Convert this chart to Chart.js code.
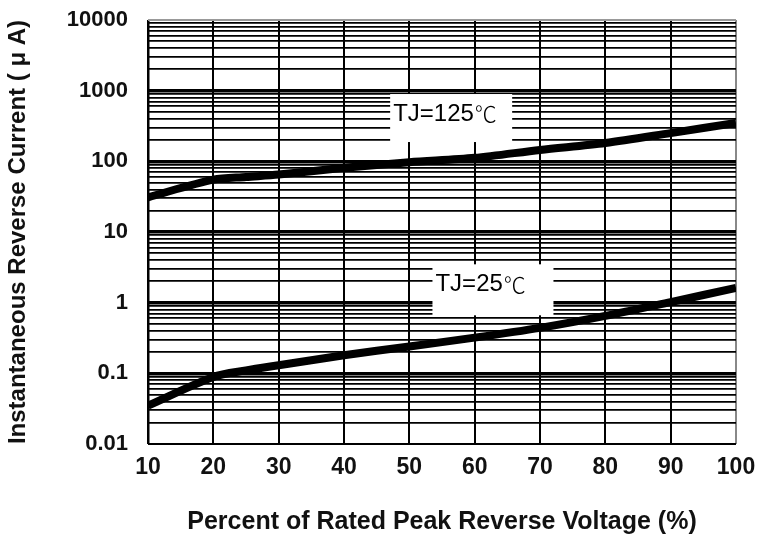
<!DOCTYPE html>
<html>
<head>
<meta charset="utf-8">
<script src="https://cdn.jsdelivr.net/npm/chart.js@4.4.1/dist/chart.umd.min.js"></script>
<style>
  html, body { margin: 0; padding: 0; background: #fff; }
  #wrap { width: 771px; height: 548px; }
</style>
</head>
<body>
<div id="wrap"><canvas id="grafico"></canvas></div>
<script>
// percent of rated peak reverse voltage
const voltagem = [10, 20, 25, 30, 40, 50, 60, 70, 80, 90, 100];
// reverse current (uA)
const corrente125 = [31, 55, 60, 65, 81, 97, 112, 145, 182, 251, 350];
const corrente25 = [0.035, 0.089, 0.11, 0.13, 0.18, 0.24, 0.32, 0.44, 0.65, 1.02, 1.62];
const ticksX = [10, 20, 30, 40, 50, 60, 70, 80, 90, 100];
const decadasY = [0.01, 0.1, 1, 10, 100, 1000, 10000];
const rotulos = [
    { texto: "TJ=125", x: 56.4, y: 410, w: 122, h: 48 },
    { texto: "TJ=25", x: 62.8, y: 1.52, w: 121, h: 51 }
];

const fonte = "'Liberation Sans', Arial, sans-serif";

function ehDecada(v) {
    return decadasY.some(d => Math.abs(v / d - 1) < 1e-6);
}

const pontos = arr => voltagem.map((x, i) => ({ x, y: arr[i] }));

const rotulosPlugin = {
    id: "rotulos",
    afterDatasetsDraw(chart) {
        const ctx = chart.ctx;
        const sx = chart.scales.x;
        const sy = chart.scales.y;
        rotulos.forEach(r => {
            const cx = sx.getPixelForValue(r.x);
            const cy = sy.getPixelForValue(r.y);
            const esq = cx - r.w / 2;
            const topo = cy - r.h / 2;
            ctx.save();
            ctx.fillStyle = "#fff";
            ctx.fillRect(esq, topo, r.w, r.h);
            ctx.fillStyle = "#000";
            ctx.textAlign = "left";
            ctx.textBaseline = "middle";
            ctx.font = "24px " + fonte;
            ctx.fillText(r.texto, esq + 3, topo + 20);
            const larg = ctx.measureText(r.texto).width;
            ctx.font = "300 22px 'Noto Sans CJK SC', sans-serif";
            ctx.fillText("℃", esq + 4 + larg, topo + 20);
            ctx.restore();
        });
    }
};

new Chart(document.getElementById("grafico"), {
    type: "line",
    data: {
        datasets: [
            { label: "TJ=125", data: pontos(corrente125), borderColor: "#000", borderWidth: 8, pointRadius: 0, tension: 0.3 },
            { label: "TJ=25", data: pontos(corrente25), borderColor: "#000", borderWidth: 8, pointRadius: 0, tension: 0.3 }
        ]
    },
    options: {
        responsive: true,
        maintainAspectRatio: false,
        animation: false,
        layout: { padding: { left: 0, top: 20, right: 35, bottom: 7 } },
        plugins: { legend: { display: false }, tooltip: { enabled: false } },
        scales: {
            x: {
                type: "linear",
                min: 10,
                max: 100,
                afterBuildTicks: s => { s.ticks = ticksX.map(v => ({ value: v })); },
                afterFit: s => { s.height = 97; },
                border: { display: false },
                grid: {
                    color: ctx => ctx.tick && ctx.tick.value === 100 ? "#888" : "#000",
                    lineWidth: ctx => ctx.tick && ctx.tick.value === 10 ? 2.5 : 2,
                    drawTicks: false
                },
                ticks: {
                    color: "#111",
                    padding: 10,
                    maxRotation: 0,
                    font: { family: fonte, size: 23, weight: "bold" }
                },
                title: {
                    display: true,
                    text: "Percent of Rated Peak Reverse Voltage (%)",
                    color: "#111",
                    padding: { top: 2 },
                    font: { family: fonte, size: 25, weight: "bold" }
                }
            },
            y: {
                type: "logarithmic",
                min: 0.01,
                max: 10000,
                afterBuildTicks: s => {
                    const t = [];
                    decadasY.forEach((d, i) => {
                        if (i === decadasY.length - 1) { t.push({ value: d }); return; }
                        for (let k = 1; k <= 9; k++) t.push({ value: d * k });
                    });
                    s.ticks = t;
                },
                afterFit: s => { s.width = 148; s.paddingTop = 0; s.paddingBottom = 0; },
                border: { display: false },
                grid: {
                    color: ctx => ctx.tick && ctx.tick.value === 10000 ? "#999" : "#000",
                    lineWidth: ctx => {
                        if (!ctx.tick) return 1.5;
                        if (ctx.tick.value === 10000 || ctx.tick.value === 0.01) return 2;
                        return ehDecada(ctx.tick.value) ? 3.5 : 1.8;
                    },
                    drawTicks: false
                },
                ticks: {
                    color: "#111",
                    padding: 20,
                    autoSkip: false,
                    font: { family: fonte, size: 22, weight: "bold" },
                    callback: v => ehDecada(v) ? String(+v.toPrecision(3)) : ""
                },
                title: {
                    display: true,
                    text: "Instantaneous Reverse Current ( μ A)",
                    color: "#111",
                    padding: { bottom: 4 },
                    font: { family: fonte, size: 24, weight: "bold" }
                }
            }
        }
    },
    plugins: [rotulosPlugin]
});
</script>
</body>
</html>
